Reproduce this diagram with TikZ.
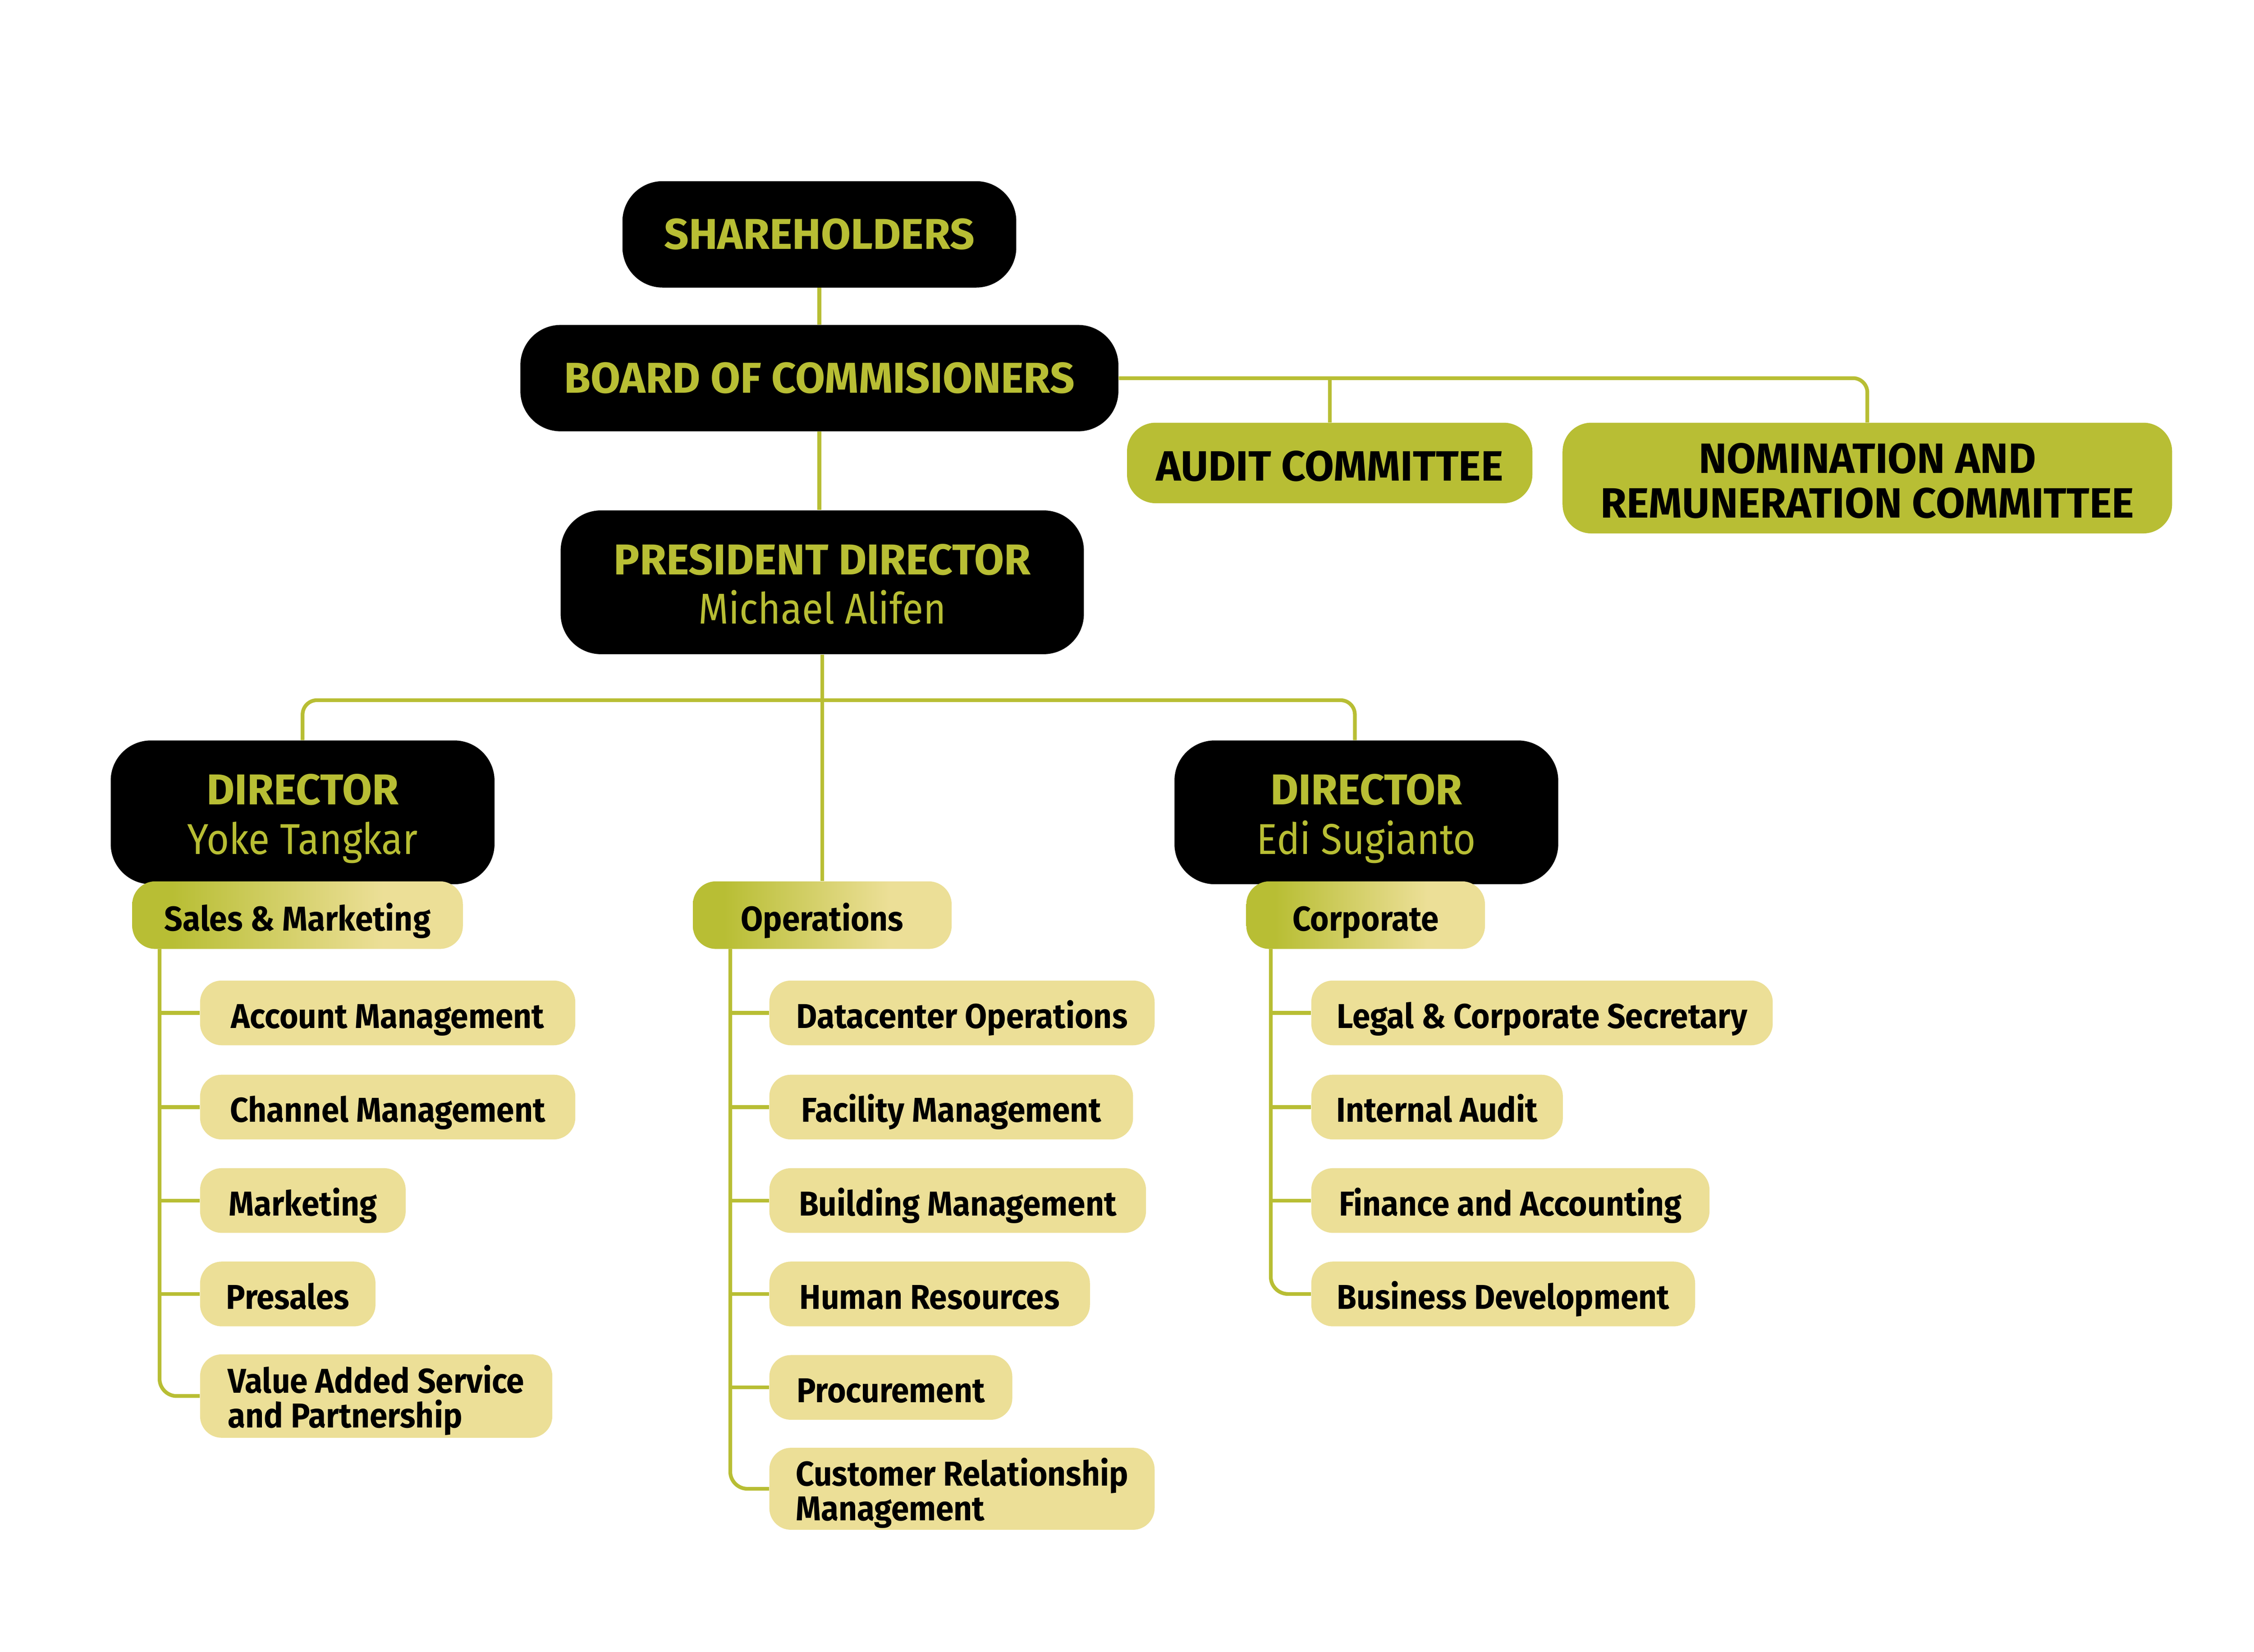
\documentclass[tikz,border=0pt]{standalone}
\usepackage{fontspec}
\setmainfont{Fira Sans}
\newfontfamily\unitfont{Fira Sans}[FakeStretch=0.93]
\newfontfamily\namefont{Fira Sans}[FakeStretch=0.9]
\definecolor{kiwi}{HTML}{B8BE34}
\definecolor{sand}{HTML}{ECDF97}
\pgfdeclarehorizontalshading{grpfade}{100bp}{color(0bp)=(kiwi); color(31bp)=(kiwi); color(63bp)=(sand); color(100bp)=(sand)}
\begin{document}
\begin{tikzpicture}[x=1pt,y=-1pt,
topbox/.style={fill=black,text=kiwi,rounded corners=28pt,align=center,inner sep=0pt,font=\bfseries\fontsize{30}{34.4}\selectfont},
twoline/.style={text height=58pt,text depth=0pt},
combox/.style={fill=kiwi,text=black,rounded corners=20pt,align=center,inner sep=0pt,font=\bfseries\fontsize{29.5}{31}\selectfont},
grpbox/.style={shading=grpfade,rounded corners=16pt,minimum height=47pt,inner sep=0pt,text height=21.6pt,text depth=0pt,font=\unitfont\bfseries\fontsize{24}{24}\selectfont},
unitbox/.style={fill=sand,rounded corners=15pt,anchor=west,align=left,inner xsep=8pt,inner ysep=0pt,minimum height=45pt,text height=21pt,text depth=0pt,font=\unitfont\bfseries\fontsize{24}{24}\selectfont},
link/.style={draw=kiwi,line width=2.6pt}]
\fill[white] (0,0) rectangle (1568,1149);
\draw (570,163) node[topbox,minimum width=274pt,minimum height=74pt] (share) {SHAREHOLDERS};
\draw (570,263) node[topbox,minimum width=416pt,minimum height=74pt] (board) {BOARD OF COMMISIONERS};
\draw (572,405) node[topbox,twoline,minimum width=364pt,minimum height=100pt] (pres) {PRESIDENT DIRECTOR\\{\namefont\mdseries Michael Alifen}};
\draw (925,322) node[combox,minimum width=282pt,minimum height=56pt,text height=25pt,text depth=0pt] (audit) {AUDIT COMMITTEE};
\draw (1299,332.5) node[combox,minimum width=424pt,minimum height=77pt,text height=55.5pt,text depth=0pt] (nrc) {NOMINATION AND\\REMUNERATION COMMITTEE};
\draw (210.5,565) node[topbox,twoline,minimum width=267pt,minimum height=100pt] (dirL) {DIRECTOR\\{\namefont\mdseries Yoke Tangkar}};
\draw (950.5,565) node[topbox,twoline,minimum width=267pt,minimum height=100pt] (dirR) {DIRECTOR\\{\namefont\mdseries Edi Sugianto}};
\draw (207,636.5) node[grpbox,minimum width=230pt] (smhead) {Sales \& Marketing};
\draw (572,636.5) node[grpbox,minimum width=180pt] (opshead) {Operations};
\draw (950,636.5) node[grpbox,minimum width=166pt] (corphead) {Corporate};
\draw (139,704.5) node[unitbox,minimum width=261pt] (sm1) {Account Management};
\draw (139,770) node[unitbox,minimum width=261pt] (sm2) {Channel Management};
\draw (139,835) node[unitbox,minimum width=143pt] (sm3) {Marketing};
\draw (139,900) node[unitbox,minimum width=122pt] (sm4) {Presales};
\draw (139,971) node[unitbox,minimum width=245pt,minimum height=58pt,text height=44pt] (sm5) {Value Added Service\\and Partnership};
\draw (535,704.5) node[unitbox,minimum width=268pt] (op1) {Datacenter Operations};
\draw (535,770) node[unitbox,minimum width=253pt] (op2) {Facility Management};
\draw (535,835) node[unitbox,minimum width=262pt] (op3) {Building Management};
\draw (535,900) node[unitbox,minimum width=223pt] (op4) {Human Resources};
\draw (535,965) node[unitbox,minimum width=169pt] (op5) {Procurement};
\draw (535,1035.5) node[unitbox,minimum width=268pt,minimum height=57pt,text height=44pt] (op6) {Customer Relationship\\Management};
\draw (912,704.5) node[unitbox,minimum width=321pt] (co1) {Legal \& Corporate Secretary};
\draw (912,770) node[unitbox,minimum width=175pt] (co2) {Internal Audit};
\draw (912,835) node[unitbox,minimum width=277pt] (co3) {Finance and Accounting};
\draw (912,900) node[unitbox,minimum width=267pt] (co4) {Business Development};
\coordinate (hub) at (572,487);
\coordinate (smtop) at (111,660);
\coordinate (optop) at (508,660);
\coordinate (cotop) at (884,660);
\draw[link] (share.south) -- (board.north);
\draw[link] (board.south) -- (board.south |- pres.north);
\draw[link,rounded corners=10pt] (board.east) -| (nrc.north);
\draw[link] (audit.north) -- (audit.north |- board.east);
\draw[link] (pres.south) -- (opshead.north);
\draw[link,rounded corners=10pt] (dirL.north) |- (hub) -| ([xshift=-8pt]dirR.north);
\draw[link,rounded corners=12pt] (smtop) |- (sm5.west);
\draw[link] (sm1.west) -- (sm1.west -| smtop);
\draw[link] (sm2.west) -- (sm2.west -| smtop);
\draw[link] (sm3.west) -- (sm3.west -| smtop);
\draw[link] (sm4.west) -- (sm4.west -| smtop);
\draw[link,rounded corners=12pt] (optop) |- (op6.west);
\draw[link] (op1.west) -- (op1.west -| optop);
\draw[link] (op2.west) -- (op2.west -| optop);
\draw[link] (op3.west) -- (op3.west -| optop);
\draw[link] (op4.west) -- (op4.west -| optop);
\draw[link] (op5.west) -- (op5.west -| optop);
\draw[link,rounded corners=12pt] (cotop) |- (co4.west);
\draw[link] (co1.west) -- (co1.west -| cotop);
\draw[link] (co2.west) -- (co2.west -| cotop);
\draw[link] (co3.west) -- (co3.west -| cotop);
\end{tikzpicture}
\end{document}
